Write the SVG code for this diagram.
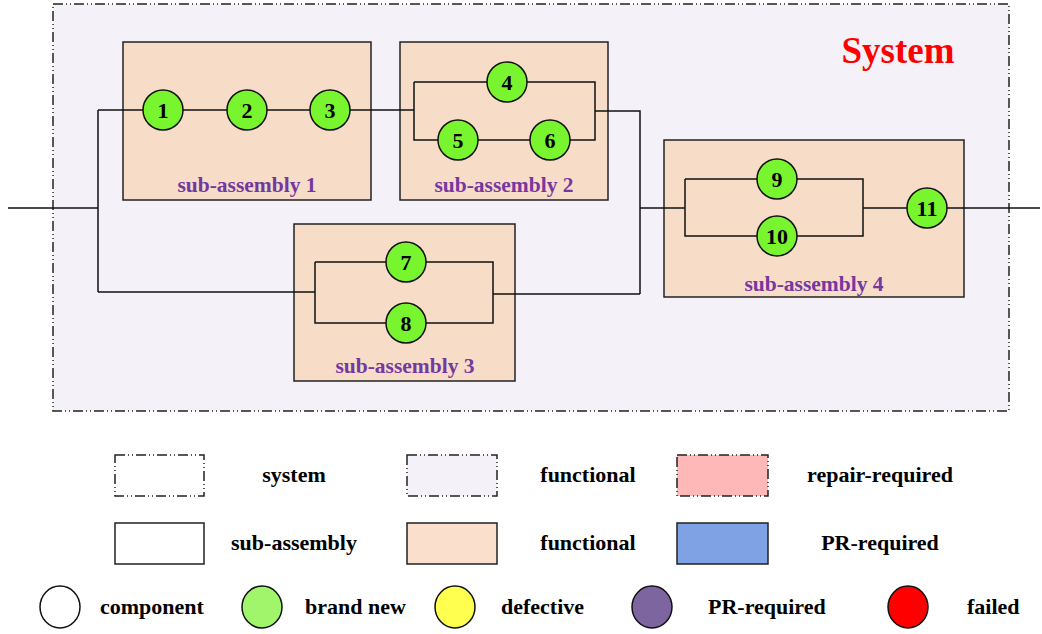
<svg xmlns="http://www.w3.org/2000/svg" width="1042" height="634" viewBox="0 0 1042 634">
<style>
.sys{fill:#f4f2f8;stroke:#222;stroke-width:1.5;stroke-dasharray:10 3 1 3 1 3}
.sa{fill:#f7dcc7;stroke:#222;stroke-width:1.5}
.w{fill:none;stroke:#111;stroke-width:1.5}
.c{fill:#79f52f;stroke:#111;stroke-width:1.5}
.n{font-family:"Liberation Serif",serif;font-weight:bold;font-size:22px;text-anchor:middle;fill:#000}
.lab{font-family:"Liberation Serif",serif;font-weight:bold;font-size:21.5px;text-anchor:middle;fill:#7438a0}
.lg{font-family:"Liberation Serif",serif;font-weight:bold;font-size:22px;fill:#000}
.lgc{stroke:#111;stroke-width:1.5}
</style>
<rect width="1042" height="634" fill="#fff"/>
<g id="system">
<rect class="sys" x="53" y="4" width="956" height="407"/>
<text x="898" y="63" font-family="Liberation Serif,serif" font-weight="bold" font-size="37" fill="#f00" text-anchor="middle">System</text>
</g>
<g id="sa1"><rect class="sa" x="123" y="42" width="248" height="158"/><text class="lab" x="247" y="192">sub-assembly 1</text></g>
<g id="sa2"><rect class="sa" x="400" y="42" width="208" height="158"/><text class="lab" x="504" y="192">sub-assembly 2</text></g>
<g id="sa3"><rect class="sa" x="294" y="224" width="221" height="157"/><text class="lab" x="405" y="373">sub-assembly 3</text></g>
<g id="sa4"><rect class="sa" x="664" y="140" width="300" height="157"/><text class="lab" x="814" y="291">sub-assembly 4</text></g>
<g id="connectors">
<path class="w" d="M8 208H98M98 110V292M98 110H414M414 82V140H595V82H414M595 111H640V294M98 292H315M315 262V323H493V262H315M493 294H640M640 208H685M685 179V236H863V179H685M863 208H1040"/>
</g>
<g id="c1"><circle class="c" cx="163" cy="110" r="20"/><text class="n" x="163" y="118">1</text></g>
<g id="c2"><circle class="c" cx="247" cy="110" r="20"/><text class="n" x="247" y="118">2</text></g>
<g id="c3"><circle class="c" cx="330" cy="110" r="20"/><text class="n" x="330" y="118">3</text></g>
<g id="c4"><circle class="c" cx="507" cy="82" r="20"/><text class="n" x="507" y="90">4</text></g>
<g id="c5"><circle class="c" cx="458" cy="140" r="20"/><text class="n" x="458" y="148">5</text></g>
<g id="c6"><circle class="c" cx="550" cy="140" r="20"/><text class="n" x="550" y="148">6</text></g>
<g id="c7"><circle class="c" cx="406" cy="262" r="20"/><text class="n" x="406" y="270">7</text></g>
<g id="c8"><circle class="c" cx="406" cy="323" r="20"/><text class="n" x="406" y="331">8</text></g>
<g id="c9"><circle class="c" cx="777" cy="179" r="20"/><text class="n" x="777" y="187">9</text></g>
<g id="c10"><circle class="c" cx="777" cy="236" r="20"/><text class="n" x="777" y="244">10</text></g>
<g id="c11"><circle class="c" cx="927" cy="208" r="20"/><text class="n" x="927" y="216">11</text></g>
<g id="legend">
<rect class="sys" x="115" y="455" width="89" height="41" style="fill:#fff"/>
<text class="lg" x="294" y="482" text-anchor="middle">system</text>
<rect class="sys" x="407" y="455" width="90" height="41"/>
<text class="lg" x="588" y="482" text-anchor="middle">functional</text>
<rect class="sys" x="677" y="455" width="91" height="41" style="fill:#feb8b8"/>
<text class="lg" x="880" y="482" text-anchor="middle">repair-required</text>
<rect x="115" y="523" width="89" height="41" fill="#fff" stroke="#222" stroke-width="1.5"/>
<text class="lg" x="294" y="550" text-anchor="middle">sub-assembly</text>
<rect x="407" y="523" width="90" height="41" fill="#fae0cc" stroke="#222" stroke-width="1.5"/>
<text class="lg" x="588" y="550" text-anchor="middle">functional</text>
<rect x="677" y="523" width="91" height="41" fill="#7fa2e5" stroke="#222" stroke-width="1.5"/>
<text class="lg" x="880" y="550" text-anchor="middle">PR-required</text>
<ellipse class="lgc" cx="60" cy="607" rx="20" ry="21" fill="#fff"/>
<text class="lg" x="100" y="614">component</text>
<ellipse class="lgc" cx="262" cy="607" rx="20" ry="21" fill="#a0f56a"/>
<text class="lg" x="305" y="614">brand new</text>
<ellipse class="lgc" cx="455" cy="607" rx="20" ry="21" fill="#ffff4f"/>
<text class="lg" x="501" y="614">defective</text>
<ellipse class="lgc" cx="652" cy="607" rx="20" ry="21" fill="#7d659f"/>
<text class="lg" x="708" y="614">PR-required</text>
<ellipse class="lgc" cx="908" cy="607" rx="20" ry="21" fill="#f00"/>
<text class="lg" x="967" y="614">failed</text>
</g>
</svg>
